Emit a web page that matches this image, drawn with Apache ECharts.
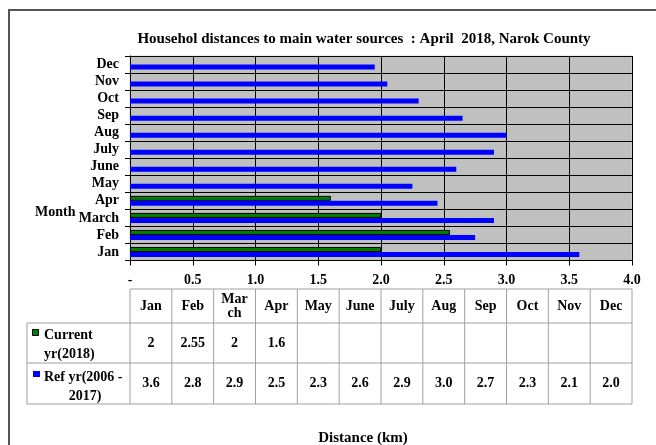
<!DOCTYPE html>
<html>
<head>
<meta charset="utf-8">
<script src="https://cdn.jsdelivr.net/npm/echarts@6/dist/echarts.min.js"></script>
<style>
  html, body { margin: 0; padding: 0; background: #fff; }
  #chart { width: 656px; height: 445px; }
</style>
</head>
<body>
<div id="chart"></div>
<script>
// data
const months = ["Jan", "Feb", "March", "Apr", "May", "June", "July", "Aug", "Sep", "Oct", "Nov", "Dec"];
const tableMonths = ["Jan", "Feb", "Mar\nch", "Apr", "May", "June", "July", "Aug", "Sep", "Oct", "Nov", "Dec"];
const currentVals = [2, 2.55, 2, 1.6, null, null, null, null, null, null, null, null];
const refVals = [3.58, 2.75, 2.9, 2.45, 2.25, 2.6, 2.9, 3.0, 2.65, 2.3, 2.05, 1.95];
const currentLabels = ["2", "2.55", "2", "1.6", "", "", "", "", "", "", "", ""];
const refLabels = ["3.6", "2.8", "2.9", "2.5", "2.3", "2.6", "2.9", "3.0", "2.7", "2.3", "2.1", "2.0"];

const FONT = "'Liberation Serif', 'Times New Roman', serif";

// plot box (px)
const plotLeft = 130, plotRight = 632, plotTop = 56, plotBottom = 260.5;
const colW = (plotRight - plotLeft) / 12;
const rowY = [289, 323, 363, 404]; // table row edges
const tableLeft = 27;

const txt = (x, y, text, align, extra) => ({
  type: "text",
  x: x, y: y,
  style: Object.assign({
    text: text,
    font: "bold 14px " + FONT,
    fill: "#000",
    align: align || "center",
    verticalAlign: "middle"
  }, extra || {})
});

const line = (x1, y1, x2, y2) => ({
  type: "line",
  shape: { x1: x1, y1: y1, x2: x2, y2: y2 },
  style: { stroke: "#a0a0a0", lineWidth: 1 }
});

const buildTable = () => {
  const els = [];
  // horizontal lines
  els.push(line(plotLeft, rowY[0], plotRight, rowY[0]));
  for (let r = 1; r < rowY.length; r++) {
    els.push(line(tableLeft, rowY[r], plotRight, rowY[r]));
  }
  // vertical lines
  els.push(line(tableLeft, rowY[1], tableLeft, rowY[3]));
  for (let c = 0; c <= 12; c++) {
    const x = plotLeft + c * colW;
    els.push(line(x, rowY[0], x, rowY[3]));
  }
  // cells
  for (let c = 0; c < 12; c++) {
    const cx = plotLeft + (c + 0.5) * colW;
    els.push(txt(cx, (rowY[0] + rowY[1]) / 2, tableMonths[c], "center", { lineHeight: 14 }));
    els.push(txt(cx, (rowY[1] + rowY[2]) / 2, currentLabels[c]));
    els.push(txt(cx, (rowY[2] + rowY[3]) / 2, refLabels[c]));
  }
  // legend keys
  els.push({
    type: "rect",
    shape: { x: 32.5, y: 329.5, width: 6, height: 6 },
    style: { fill: "#008000", stroke: "#000", lineWidth: 1 }
  });
  els.push(txt(44, 335, "Current", "left"));
  els.push(txt(44, 354, "yr(2018)", "left"));
  els.push({
    type: "rect",
    shape: { x: 33, y: 371, width: 7, height: 6 },
    style: { fill: "#0000ff" }
  });
  els.push(txt(44, 377, "Ref yr(2006 -", "left"));
  els.push(txt(85, 396, "2017)", "center"));
  return els;
};

const chart = echarts.init(document.getElementById("chart"));

const option = {
  backgroundColor: "#fff",
  animation: false,
  grid: {
    left: plotLeft,
    right: 656 - plotRight,
    top: plotTop,
    bottom: 445 - plotBottom,
    show: true,
    backgroundColor: "#c0c0c0",
    borderColor: "#d8d8d8",
    borderWidth: 1
  },
  xAxis: {
    type: "value",
    min: 0,
    max: 4,
    interval: 0.5,
    axisLine: { show: true, lineStyle: { color: "#000", width: 1 } },
    axisTick: { show: true, inside: false, length: 5, lineStyle: { color: "#000" } },
    splitLine: { show: true, lineStyle: { color: "#000", width: 1 } },
    axisLabel: {
      margin: 13,
      fontFamily: FONT,
      fontWeight: "bold",
      fontSize: 14,
      color: "#000",
      formatter: (v) => (v === 0 ? "-" : v.toFixed(1))
    }
  },
  yAxis: {
    type: "category",
    data: months,
    axisLine: { show: true, lineStyle: { color: "#000", width: 1 } },
    axisTick: { show: true, interval: 0, inside: false, length: 5, alignWithLabel: false, lineStyle: { color: "#000" } },
    splitLine: { show: true, interval: 0, lineStyle: { color: "#000", width: 1 } },
    axisLabel: {
      interval: 0,
      margin: 11,
      fontFamily: FONT,
      fontWeight: "bold",
      fontSize: 14,
      lineHeight: 14,
      color: "#000"
    }
  },
  series: [
    {
      name: "Current yr(2018)",
      type: "bar",
      data: currentVals,
      barWidth: 5,
      barGap: "0%",
      itemStyle: { color: "#008000", borderColor: "#000", borderWidth: 1 }
    },
    {
      name: "Ref yr(2006 - 2017)",
      type: "bar",
      data: refVals,
      barWidth: 5,
      barGap: "0%",
      itemStyle: { color: "#0000ff" }
    }
  ],
  graphic: [
    {
      type: "rect",
      shape: { x: 9, y: 10, width: 700, height: 500 },
      style: { fill: null, stroke: "#555", lineWidth: 2 },
      silent: true
    },
    txt(364, 39, "Househol distances to main water sources  : April  2018, Narok County", "center", { font: "bold 15px " + FONT }),
    txt(35, 212, "Month", "left"),
    txt(363, 438, "Distance (km)", "center", { font: "bold 15px " + FONT })
  ].concat(buildTable())
};

chart.setOption(option);
</script>
</body>
</html>
